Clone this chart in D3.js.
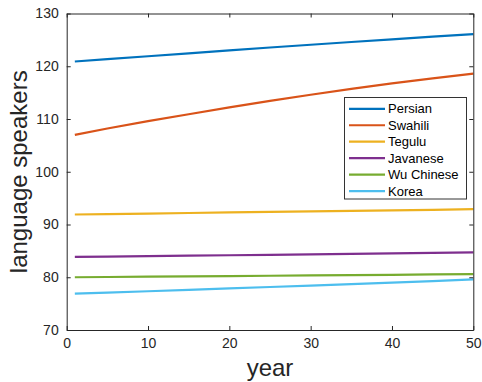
<!DOCTYPE html>
<html><head><meta charset="utf-8">
<script src="https://cdn.jsdelivr.net/npm/d3@7"></script>
<style>html,body{margin:0;padding:0;background:#fff;}svg{display:block;}</style>
</head><body>
<svg id="chart" width="482" height="382"></svg>
<script>
const years = [1, 5, 10, 15, 20, 25, 30, 35, 40, 45, 50];
const persian  = [120.9, 121.35, 121.9, 122.45, 123.0, 123.55, 124.08, 124.6, 125.1, 125.6, 126.1];
const swahili  = [107.0, 108.2, 109.6, 110.9, 112.2, 113.45, 114.6, 115.7, 116.75, 117.7, 118.6];
const tegulu   = [91.9, 91.98, 92.08, 92.18, 92.28, 92.38, 92.48, 92.58, 92.68, 92.79, 92.9];
const javanese = [83.85, 83.92, 84.0, 84.09, 84.17, 84.26, 84.35, 84.44, 84.52, 84.61, 84.7];
const wuChinese= [80.0, 80.05, 80.1, 80.16, 80.22, 80.28, 80.34, 80.4, 80.46, 80.53, 80.6];
const korea    = [76.9, 77.1, 77.35, 77.6, 77.9, 78.15, 78.4, 78.7, 78.98, 79.28, 79.58];
const seriesNames = ["Persian", "Swahili", "Tegulu", "Javanese", "Wu Chinese", "Korea"];
const seriesColors = ["#0072BD", "#D95319", "#EDB120", "#7E2F8E", "#77AC30", "#4DBEEE"];
const xTicks = [0, 10, 20, 30, 40, 50];
const yTicks = [70, 80, 90, 100, 110, 120, 130];
const xLabel = "year";
const yLabel = "language speakers";

const seriesValues = [persian, swahili, tegulu, javanese, wuChinese, korea];
const svg = d3.select("#chart");
const L = 66.7, R = 473.3, T = 13.5, B = 330;
const x = d3.scaleLinear().domain([0, 50]).range([L, R]);
const y = d3.scaleLinear().domain([70, 130]).range([B, T]);
const axisColor = "#262626";
const font = "Arial, 'Liberation Sans', Helvetica, sans-serif";

// lines
const line = d3.line().x(d => x(d[0])).y(d => y(d[1]));
seriesValues.forEach((vals, i) => {
  svg.append("path")
    .datum(years.map((yr, j) => [yr, vals[j]]))
    .attr("d", line)
    .attr("fill", "none")
    .attr("stroke", seriesColors[i])
    .attr("stroke-width", 2.2);
});

// axes
const tickLen = 4;
const gB = svg.append("g").attr("transform", `translate(0,${B})`)
  .call(d3.axisBottom(x).tickValues(xTicks).tickSizeInner(-tickLen).tickSizeOuter(0).tickPadding(8));
const gT = svg.append("g").attr("transform", `translate(0,${T})`)
  .call(d3.axisTop(x).tickValues(xTicks).tickSizeInner(-tickLen).tickSizeOuter(0).tickFormat(""));
const gL = svg.append("g").attr("transform", `translate(${L},0)`)
  .call(d3.axisLeft(y).tickValues(yTicks).tickSizeInner(-tickLen).tickSizeOuter(0).tickPadding(8));
const gR = svg.append("g").attr("transform", `translate(${R},0)`)
  .call(d3.axisRight(y).tickValues(yTicks).tickSizeInner(-tickLen).tickSizeOuter(0).tickFormat(""));
[gB, gT, gL, gR].forEach(g => {
  g.selectAll("path.domain").attr("stroke", axisColor).attr("stroke-width", 1);
  g.selectAll(".tick line").attr("stroke", axisColor).attr("stroke-width", 1);
  g.selectAll(".tick text").attr("fill", axisColor).style("font-family", font).style("font-size", "14px");
});
gB.selectAll(".tick text").attr("dy", "0.71em");

// axis labels
svg.append("text").attr("x", (L + R) / 2).attr("y", 376)
  .attr("text-anchor", "middle").attr("fill", axisColor)
  .style("font-family", font).style("font-size", "24px").text(xLabel);
svg.append("text").attr("transform", `translate(27,${(T + B) / 2}) rotate(-90)`)
  .attr("text-anchor", "middle").attr("fill", axisColor)
  .style("font-family", font).style("font-size", "24px").text(yLabel);

// legend
const lg = svg.append("g");
lg.append("rect").attr("x", 344.5).attr("y", 97.5).attr("width", 122).attr("height", 101.5)
  .attr("fill", "#fff").attr("stroke", "#333").attr("stroke-width", 1);
seriesNames.forEach((name, i) => {
  const yy = 108.8 + i * 16.45;
  lg.append("line").attr("x1", 349).attr("x2", 385).attr("y1", yy).attr("y2", yy)
    .attr("stroke", seriesColors[i]).attr("stroke-width", 2.2);
  lg.append("text").attr("x", 388).attr("y", yy).attr("dy", "0.35em")
    .attr("fill", "#000").style("font-family", font).style("font-size", "13px").text(name);
});
</script>
</body></html>
